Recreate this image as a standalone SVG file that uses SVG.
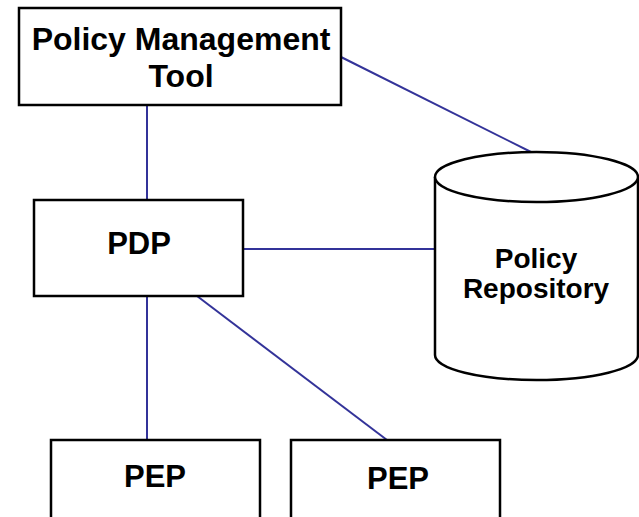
<svg xmlns="http://www.w3.org/2000/svg" width="639" height="517" viewBox="0 0 639 517">
  <style>
    .box { fill: #ffffff; stroke: #000000; stroke-width: 2.5; }
    .link { stroke: #333399; stroke-width: 2; fill: none; }
    .label { font-family: "Liberation Sans", Arial, sans-serif; font-weight: bold; fill: #000000; text-anchor: middle; }
  </style>
  <rect width="639" height="517" fill="#ffffff"/>

  <!-- connectors -->
  <g id="connectors">
    <line class="link" x1="147" y1="105" x2="147" y2="200"/>
    <line class="link" x1="341" y1="57" x2="531" y2="152"/>
    <line class="link" x1="243" y1="249" x2="435" y2="249"/>
    <line class="link" x1="147" y1="296" x2="147" y2="440"/>
    <line class="link" x1="197" y1="296" x2="387" y2="440"/>
  </g>

  <!-- Policy Management Tool -->
  <g id="policy-management-tool">
    <rect class="box" x="19" y="8" width="322" height="97"/>
    <text class="label" x="181" y="50" font-size="32">Policy Management</text>
    <text class="label" x="181" y="87" font-size="32">Tool</text>
  </g>

  <!-- PDP -->
  <g id="pdp">
    <rect class="box" x="34" y="200" width="209" height="96"/>
    <text class="label" x="139" y="254" font-size="31">PDP</text>
  </g>

  <!-- Policy Repository (cylinder) -->
  <g id="policy-repository">
    <path class="box" d="M435,177 A101.5,25 0 0 1 638,177 L638,355 A101.5,25 0 0 1 435,355 Z"/>
    <path class="box" fill="none" d="M435,177 A101.5,25 0 0 0 638,177"/>
    <text class="label" x="536" y="268" font-size="28">Policy</text>
    <text class="label" x="536" y="298" font-size="28">Repository</text>
  </g>

  <!-- PEP (left) -->
  <g id="pep-1">
    <rect class="box" x="51" y="440" width="209" height="90"/>
    <text class="label" x="155" y="487" font-size="31">PEP</text>
  </g>

  <!-- PEP (right) -->
  <g id="pep-2">
    <rect class="box" x="291" y="440" width="209" height="90"/>
    <text class="label" x="398" y="489" font-size="31">PEP</text>
  </g>
</svg>
